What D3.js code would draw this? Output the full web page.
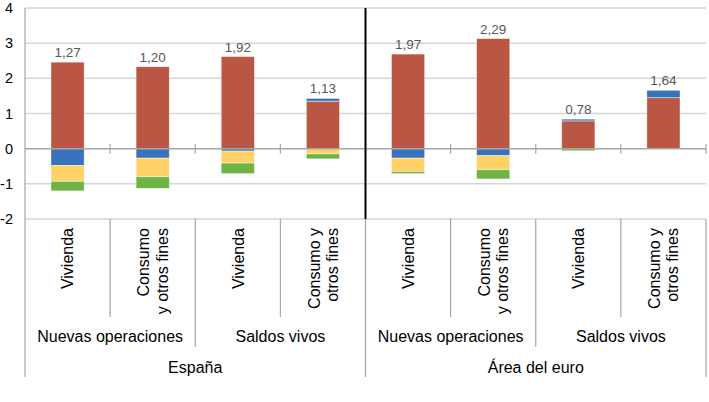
<!DOCTYPE html>
<html><head><meta charset="utf-8">
<script src="https://cdn.jsdelivr.net/npm/d3@7"></script>
<style>html,body{margin:0;padding:0;background:#fff;}svg{display:block;font-family:"Liberation Sans",Arial,sans-serif;}</style>
</head><body>
<svg id="c" width="709" height="402"></svg>
<script>
const categories = ["ES-NO-V","ES-NO-C","ES-SV-V","ES-SV-C","EA-NO-V","EA-NO-C","EA-SV-V","EA-SV-C"];
const catLabels = [["Vivienda"],["Consumo","y otros fines"],["Vivienda"],["Consumo y","otros fines"],
                   ["Vivienda"],["Consumo","y otros fines"],["Vivienda"],["Consumo y","otros fines"]];
const groupLabels = ["Nuevas operaciones","Saldos vivos","Nuevas operaciones","Saldos vivos"];
const regionLabels = ["España","Área del euro"];
const seriesNames = ["s1","s2","s3","s4"];
const s1 = [2.46, 2.33, 2.62, 1.35, 2.69, 3.13, 0.79, 1.45];
const s2 = [-0.48, -0.27, -0.07, 0.08, -0.27, -0.20, 0.05, 0.21];
const s3 = [-0.45, -0.53, -0.34, -0.15, -0.38, -0.40, 0, 0];
const s4 = [-0.27, -0.33, -0.30, -0.14, -0.06, -0.26, -0.06, 0];
const totals = ["1,27","1,20","1,92","1,13","1,97","2,29","0,78","1,64"];
const yTicks = [-2,-1,0,1,2,3,4];
const colors = ["#BA5744","#3A71BB","#FFD166","#6DB445"];

const svg = d3.select("#c");
const L = 25, R = 706, T = 8, B = 219;
const x = d3.scaleBand().domain(categories).range([L, R]).paddingInner(0.61).paddingOuter(0.305);
const y = d3.scaleLinear().domain([-2, 4]).range([B, T]);
const step = x.step();

// gridlines
svg.append("g").selectAll("line").data(yTicks.filter(d => d !== 0)).join("line")
  .attr("x1", L).attr("x2", R).attr("y1", d => y(d)).attr("y2", d => y(d))
  .attr("stroke", "#d6d6d6").attr("stroke-width", 1.5);

// y labels
svg.append("g").selectAll("text").data(yTicks).join("text")
  .attr("x", 13).attr("y", d => y(d)).attr("dy", "0.35em")
  .attr("text-anchor", "end").attr("font-size", 14.5).attr("fill", "#000")
  .text(d => d);

// stacked bars
const table = categories.map((c, i) => ({cat: c, s1: s1[i], s2: s2[i], s3: s3[i], s4: s4[i]}));
const stack = d3.stack().keys(seriesNames).offset(d3.stackOffsetDiverging);
const layers = stack(table);
svg.append("g").selectAll("g").data(layers).join("g")
  .attr("fill", (d, i) => colors[i])
  .selectAll("rect").data(d => d).join("rect")
  .attr("x", d => x(d.data.cat)).attr("width", x.bandwidth())
  .attr("y", d => y(Math.max(d[0], d[1])))
  .attr("height", d => Math.abs(y(d[0]) - y(d[1])))
  .attr("stroke", "#fff").attr("stroke-opacity", 0.55).attr("stroke-width", 0.8);

// zero line
svg.append("line").attr("x1", L).attr("x2", R).attr("y1", y(0)).attr("y2", y(0))
  .attr("stroke", "#a6a6a6").attr("stroke-width", 1.5);
// ticks on zero line
const bounds = d3.range(1, categories.length + 1).map(i => L + step * i);
svg.append("g").selectAll("line").data(bounds).join("line")
  .attr("x1", d => d).attr("x2", d => d).attr("y1", y(0) - 5).attr("y2", y(0) + 5)
  .attr("stroke", "#a6a6a6").attr("stroke-width", 1.2);

// left axis line
svg.append("line").attr("x1", L).attr("x2", L).attr("y1", T).attr("y2", 377)
  .attr("stroke", "#a6a6a6").attr("stroke-width", 1.2);

// value labels
const tops = table.map(d => {
  const pos = seriesNames.map(k => d[k]).filter(v => v > 0);
  return d3.sum(pos);
});
svg.append("g").selectAll("text").data(categories).join("text")
  .attr("x", d => x(d) + x.bandwidth() / 2)
  .attr("y", (d, i) => y(tops[i]) - 5)
  .attr("text-anchor", "middle").attr("font-size", 13.5).attr("fill", "#595959")
  .text((d, i) => totals[i]);

// divider between regions
svg.append("line").attr("x1", L + step * 4).attr("x2", L + step * 4).attr("y1", T).attr("y2", B)
  .attr("stroke", "#000").attr("stroke-width", 2);

// bottom separators
const sep = svg.append("g").attr("stroke", "#a6a6a6").attr("stroke-width", 1.2);
bounds.forEach((b, i) => {
  const k = i + 1;
  const y2 = k % 4 === 0 ? 377 : (k % 2 === 0 ? 347 : 317);
  sep.append("line").attr("x1", b).attr("x2", b).attr("y1", B).attr("y2", y2);
});

// category labels (rotated)
const cl = svg.append("g").attr("font-size", 16).attr("fill", "#000");
categories.forEach((c, i) => {
  const cx = x(c) + x.bandwidth() / 2;
  const lines = catLabels[i];
  const n = lines.length;
  lines.forEach((t, j) => {
    const off = (j - (n - 1) / 2) * 18.4 + 5.8;
    cl.append("text")
      .attr("transform", `translate(${cx + off},228) rotate(-90)`)
      .attr("text-anchor", "end").text(t);
  });
});

// group labels
svg.append("g").selectAll("text").data(groupLabels).join("text")
  .attr("x", (d, i) => L + step * (2 * i + 1))
  .attr("y", 342).attr("text-anchor", "middle").attr("font-size", 16).text(d => d);
svg.append("g").selectAll("text").data(regionLabels).join("text")
  .attr("x", (d, i) => L + step * (4 * i + 2))
  .attr("y", 373).attr("text-anchor", "middle").attr("font-size", 16).text(d => d);
</script>
</body></html>
